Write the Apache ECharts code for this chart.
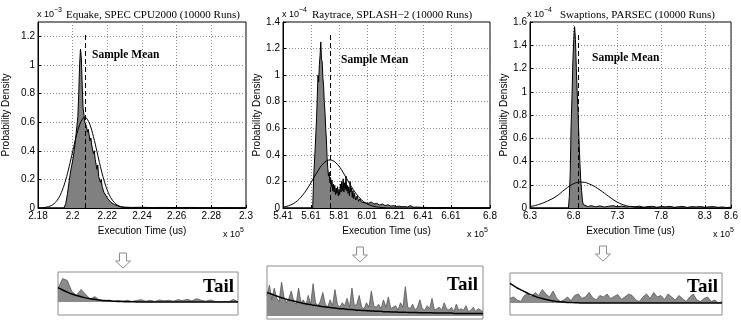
<!DOCTYPE html>
<html><head><meta charset="utf-8">
<style>html,body{margin:0;padding:0;background:#fff}#c{width:741px;height:320px}</style>
<script src="https://cdn.jsdelivr.net/npm/echarts@6.0.0/dist/echarts.min.js"></script>
</head><body><div id="c"></div>
<script>
// ---------- Panel 1: Equake (x in 1e5 us, density in 1e-3) ----------
const p1Title = 'Equake, SPEC CPU2000 (10000 Runs)';
const p1XTicks = [2.18, 2.2, 2.22, 2.24, 2.26, 2.28, 2.3];
const p1XLabels = ['2.18', '2.2', '2.22', '2.24', '2.26', '2.28', '2.3'];
const p1YTicks = [0, 0.2, 0.4, 0.6, 0.8, 1.0, 1.2];
const p1YLabels = ['0', '0.2', '0.4', '0.6', '0.8', '1', '1.2'];
const p1Range = [2.18, 2.3, 0, 1.3];
const p1Mean = 2.207;
const p1Hist = [[2.18,0],[2.195,0],[2.196,0.03],[2.197,0.10],[2.198,0.19],[2.199,0.27],[2.2,0.33],[2.201,0.41],[2.202,0.52],[2.203,0.64],[2.2035,0.80],[2.204,1.0],[2.2045,1.11],[2.205,1.05],[2.2055,0.86],[2.206,0.70],[2.207,0.60],[2.208,0.57],[2.2085,0.53],[2.209,0.55],[2.21,0.47],[2.2105,0.49],[2.211,0.44],[2.212,0.38],[2.2125,0.40],[2.213,0.34],[2.214,0.27],[2.2145,0.30],[2.215,0.22],[2.216,0.18],[2.2165,0.20],[2.217,0.15],[2.218,0.11],[2.2185,0.12],[2.219,0.09],[2.22,0.07],[2.221,0.055],[2.222,0.04],[2.223,0.035],[2.224,0.025],[2.225,0.02],[2.226,0.015],[2.227,0.012],[2.228,0.008],[2.23,0.006],[2.234,0.004],[2.24,0.005],[2.246,0.003],[2.252,0.004],[2.26,0.003],[2.268,0.004],[2.276,0.002],[2.284,0.003],[2.292,0.002],[2.3,0.002]];
const p1Fit = [[2.18,0.0006],[2.184,0.004],[2.188,0.019],[2.19,0.039],[2.192,0.072],[2.194,0.124],[2.196,0.197],[2.198,0.29],[2.2,0.395],[2.202,0.498],[2.204,0.581],[2.206,0.628],[2.207,0.634],[2.208,0.628],[2.21,0.581],[2.212,0.498],[2.214,0.395],[2.216,0.29],[2.218,0.197],[2.22,0.124],[2.222,0.072],[2.224,0.039],[2.226,0.019],[2.228,0.008],[2.23,0.004],[2.234,0.0006],[2.24,0],[2.3,0]];

// ---------- Panel 2: Raytrace (x in 1e5 us, density in 1e-4) ----------
const p2Title = 'Raytrace, SPLASH\u22122 (10000 Runs)';
const p2XTicks = [5.41, 5.61, 5.81, 6.01, 6.21, 6.41, 6.61, 6.889];
const p2XLabels = ['5.41', '5.61', '5.81', '6.01', '6.21', '6.41', '6.61', '6.8'];
const p2YTicks = [0, 0.2, 0.4, 0.6, 0.8, 1.0, 1.2, 1.4];
const p2YLabels = ['0', '0.2', '0.4', '0.6', '0.8', '1', '1.2', '1.4'];
const p2Range = [5.41, 6.889, 0, 1.4];
const p2Mean = 5.746;
const p2Hist = [[5.41,0],[5.622,0],[5.63,0.25],[5.64,0.45],[5.65,0.68],[5.66,1.0],[5.665,0.95],[5.67,1.08],[5.675,1.15],[5.68,1.25],[5.685,1.12],[5.69,1.10],[5.695,0.98],[5.70,0.92],[5.705,0.80],[5.71,0.72],[5.715,0.60],[5.72,0.52],[5.725,0.38],[5.73,0.30],[5.735,0.24],[5.74,0.27],[5.745,0.19],[5.75,0.23],[5.755,0.16],[5.76,0.21],[5.765,0.13],[5.77,0.18],[5.775,0.12],[5.78,0.17],[5.785,0.10],[5.79,0.15],[5.795,0.11],[5.80,0.16],[5.805,0.09],[5.81,0.14],[5.815,0.10],[5.82,0.18],[5.825,0.12],[5.83,0.20],[5.835,0.13],[5.84,0.22],[5.845,0.12],[5.85,0.19],[5.855,0.14],[5.86,0.24],[5.865,0.13],[5.87,0.17],[5.875,0.11],[5.88,0.16],[5.885,0.09],[5.89,0.20],[5.895,0.12],[5.90,0.15],[5.905,0.08],[5.91,0.13],[5.915,0.07],[5.92,0.11],[5.93,0.06],[5.94,0.09],[5.95,0.05],[5.96,0.07],[5.97,0.045],[5.98,0.06],[5.99,0.04],[6.0,0.05],[6.02,0.035],[6.04,0.045],[6.06,0.03],[6.08,0.035],[6.10,0.022],[6.12,0.03],[6.14,0.018],[6.16,0.024],[6.18,0.014],[6.20,0.018],[6.22,0.011],[6.24,0.014],[6.26,0.009],[6.28,0.011],[6.30,0.007],[6.32,0.018],[6.34,0.006],[6.37,0.007],[6.40,0.005],[6.45,0.004],[6.50,0.003],[6.60,0.003],[6.70,0.002],[6.80,0.002],[6.889,0.002]];
const p2Fit = [[5.41,0.007],[5.45,0.017],[5.5,0.044],[5.55,0.096],[5.6,0.173],[5.65,0.263],[5.7,0.337],[5.746,0.362],[5.8,0.327],[5.85,0.248],[5.9,0.159],[5.95,0.085],[6.0,0.038],[6.05,0.015],[6.1,0.005],[6.15,0.0013],[6.2,0],[6.889,0]];

// ---------- Panel 3: Swaptions (x in 1e5 us, density in 1e-4) ----------
const p3Title = 'Swaptions, PARSEC (10000 Runs)';
const p3XTicks = [6.3, 6.8, 7.3, 7.8, 8.3, 8.6];
const p3XLabels = ['6.3', '6.8', '7.3', '7.8', '8.3', '8.6'];
const p3YTicks = [0, 0.2, 0.4, 0.6, 0.8, 1.0, 1.2, 1.4, 1.6];
const p3YLabels = ['0', '0.2', '0.4', '0.6', '0.8', '1', '1.2', '1.4', '1.6'];
const p3Range = [6.3, 8.6, 0, 1.6];
const p3Mean = 6.856;
const p3Hist = [[6.3,0],[6.74,0],[6.75,0.10],[6.76,0.30],[6.77,0.70],[6.78,0.95],[6.79,1.25],[6.80,1.45],[6.81,1.56],[6.82,1.45],[6.83,1.20],[6.84,1.00],[6.85,0.82],[6.86,0.60],[6.87,0.40],[6.88,0.25],[6.89,0.15],[6.90,0.06],[6.91,0.03],[6.93,0.02],[6.96,0.012],[7.0,0.02],[7.05,0.01],[7.1,0.018],[7.15,0.008],[7.2,0.015],[7.25,0.02],[7.3,0.01],[7.35,0.017],[7.4,0.008],[7.45,0.014],[7.5,0.01],[7.55,0.016],[7.6,0.007],[7.65,0.012],[7.7,0.015],[7.75,0.006],[7.8,0.012],[7.85,0.01],[7.9,0.014],[7.95,0.006],[8.0,0.011],[8.05,0.013],[8.1,0.005],[8.15,0.012],[8.2,0.009],[8.25,0.013],[8.3,0.006],[8.35,0.01],[8.4,0.012],[8.45,0.005],[8.5,0.009],[8.55,0.004],[8.6,0.006]];
const p3Fit = [[6.3,0.012],[6.4,0.03],[6.5,0.06],[6.6,0.10],[6.7,0.16],[6.8,0.21],[6.89,0.223],[7.0,0.20],[7.1,0.155],[7.2,0.10],[7.3,0.05],[7.4,0.02],[7.5,0.008],[7.6,0.003],[7.7,0.001],[7.8,0],[8.6,0]];

// ---------- Tail insets (zoomed tails; relative density units) ----------
const tail1Hist = [0.45,0.78,0.72,0.35,0.22,0.42,0.25,0.10,0.18,0.06,0.03,0.07,0.02,0.05,0.03,0.06,0.02,0.05,0.08,0.03,0.06,0.02,0.07,0.04,0.06,0.03,0.08,0.05,0.09,0.04,0.11,0.06,0.03,0.07,0.02,0.0,0.02,0.01,0.09,0.01];
const tail1Fit = [0.48,0.40,0.33,0.27,0.22,0.18,0.14,0.11,0.09,0.07,0.05,0.04,0.03,0.02,0.015,0.01,0.008,0.005,0.003,0.002,0,0,0,0,0,0,0,0,0,0,0,0,0,0,0,0,0,0,0,0];
const tail2Hist = [0.70,1.05,0.55,0.95,0.60,0.50,1.15,0.65,0.45,0.60,
  0.85,0.50,0.40,0.95,0.45,0.55,0.35,0.70,0.40,1.10,
  0.45,0.35,0.50,0.80,0.40,0.30,0.55,0.35,0.90,0.40,
  0.30,0.45,0.35,0.60,0.30,0.95,0.35,0.40,0.70,0.30,
  0.25,0.45,0.30,0.85,0.35,0.30,0.40,0.25,0.55,0.30,
  0.65,0.25,0.30,0.35,0.20,0.45,0.30,1.00,0.30,0.25,
  0.40,0.20,0.30,0.55,0.25,0.20,0.35,0.25,0.60,0.20,
  0.25,0.30,0.20,0.45,0.25,0.20,0.30,0.15,0.40,0.20,
  0.25,0.20,0.35,0.15,0.20,0.30,0.15,0.25,0.20,0.15];
const tail2Fit = [0.80,0.77,0.74,0.71,0.68,0.65,0.62,0.60,0.57,0.55,
  0.53,0.51,0.49,0.47,0.45,0.43,0.42,0.40,0.39,0.37,
  0.36,0.35,0.33,0.32,0.31,0.30,0.29,0.28,0.27,0.26,
  0.25,0.25,0.24,0.23,0.22,0.22,0.21,0.20,0.20,0.19,
  0.19,0.18,0.18,0.17,0.17,0.16,0.16,0.16,0.15,0.15,
  0.15,0.14,0.14,0.14,0.13,0.13,0.13,0.13,0.12,0.12,
  0.12,0.12,0.12,0.11,0.11,0.11,0.11,0.11,0.11,0.10,
  0.10,0.10,0.10,0.10,0.10,0.10,0.10,0.09,0.09,0.09,
  0.09,0.09,0.09,0.09,0.09,0.09,0.09,0.09,0.09,0.09];
const tail3Hist = [0.15,0.20,0.10,0.05,0.25,0.30,0.20,0.35,0.25,0.45,0.30,0.20,0.40,0.15,0.05,0.10,0.20,0.08,0.25,0.30,0.15,0.20,0.35,0.18,0.10,0.25,0.20,0.30,0.15,0.22,0.28,0.12,0.20,0.30,0.25,0.10,0.05,0.20,0.30,0.15,0.35,0.20,0.25,0.12,0.30,0.20,0.10,0.25,0.15,0.05,0.20,0.30,0.10,0.05,0.15,0.20,0.05,0.10,0.00,0.05];
const tail3Fit = [0.65,0.58,0.50,0.44,0.38,0.32,0.27,0.22,0.18,0.15,0.12,0.09,0.07,0.05,0.04,0.03,0.02,0.015,0.01,0.005,0,0,0,0,0,0,0,0,0,0,0,0,0,0,0,0,0,0,0,0,0,0,0,0,0,0,0,0,0,0,0,0,0,0,0,0,0,0,0,0];

const SANS = '"Liberation Sans", Arial, Helvetica, sans-serif';
const SERIF = '"Liberation Serif", "Times New Roman", serif';

const panels = [
  {title: p1Title, xt: p1XTicks, xl: p1XLabels, yt: p1YTicks, yl: p1YLabels, r: p1Range, mean: p1Mean, hist: p1Hist, fit: p1Fit,
   grid: {left: 37, top: 22, width: 209, height: 186}, yNameGap: 27},
  {title: p2Title, xt: p2XTicks, xl: p2XLabels, yt: p2YTicks, yl: p2YLabels, r: p2Range, mean: p2Mean, hist: p2Hist, fit: p2Fit,
   grid: {left: 283, top: 22, width: 207, height: 186}, yNameGap: 20},
  {title: p3Title, xt: p3XTicks, xl: p3XLabels, yt: p3YTicks, yl: p3YLabels, r: p3Range, mean: p3Mean, hist: p3Hist, fit: p3Fit,
   grid: {left: 530, top: 22, width: 204, height: 186}, yNameGap: 20}
];
const insets = [
  {hist: tail1Hist, fit: tail1Fit, grid: {left: 58, top: 272, width: 180, height: 43}, yr: [-0.43, 1.0]},
  {hist: tail2Hist, fit: tail2Fit, grid: {left: 267, top: 266, width: 216, height: 53}, yr: [-0.1, 1.7]},
  {hist: tail3Hist, fit: tail3Fit, grid: {left: 510, top: 273, width: 212, height: 42}, yr: [-0.4, 1.0]}
];

function lab(ticks, labels) {
  return v => { const k = ticks.findIndex(t => Math.abs(t - v) < 1e-6); return k >= 0 ? labels[k] : ''; };
}

const grids = [], xAxes = [], yAxes = [], series = [];
panels.forEach((p, i) => {
  grids.push(Object.assign({show: true, borderColor: '#000', borderWidth: 1, backgroundColor: '#fff', containLabel: false}, p.grid));
  const grid = {show: true, lineStyle: {color: '#8a8a8a', type: [1, 2], width: 1}};
  xAxes.push({gridIndex: i, type: 'value', min: p.r[0], max: p.r[1],
    axisLine: {show: true, onZero: false, lineStyle: {color: '#000', width: 1}},
    axisTick: {show: true, inside: true, length: 3, customValues: p.xt, lineStyle: {color: '#000'}},
    axisLabel: {customValues: p.xt, formatter: lab(p.xt, p.xl), color: '#000', fontSize: 10, fontFamily: SANS, margin: 3, hideOverlap: false, showMinLabel: true, showMaxLabel: true},
    splitLine: grid,
    name: 'Execution Time (us)', nameLocation: 'middle', nameGap: 15,
    nameTextStyle: {color: '#000', fontSize: 10, fontFamily: SANS}});
  yAxes.push({gridIndex: i, type: 'value', min: p.r[2], max: p.r[3],
    axisLine: {show: true, onZero: false, lineStyle: {color: '#000', width: 1}},
    axisTick: {show: true, inside: true, length: 3, customValues: p.yt, lineStyle: {color: '#000'}},
    axisLabel: {customValues: p.yt, formatter: lab(p.yt, p.yl), color: '#000', fontSize: 10, fontFamily: SANS, margin: 3, hideOverlap: false, showMinLabel: true, showMaxLabel: true},
    splitLine: grid,
    name: 'Probability Density', nameLocation: 'middle', nameGap: p.yNameGap,
    nameTextStyle: {color: '#000', fontSize: 10, fontFamily: SANS}});
  series.push({type: 'line', xAxisIndex: i, yAxisIndex: i, data: p.hist, symbol: 'none', silent: true,
    lineStyle: {color: '#000', width: 1}, areaStyle: {color: '#808080', opacity: 1}, z: 2});
  series.push({type: 'line', xAxisIndex: i, yAxisIndex: i, data: p.fit, symbol: 'none', smooth: 0.4, silent: true,
    lineStyle: {color: '#000', width: 1}, z: 3,
    markLine: {symbol: 'none', silent: true, label: {show: false}, animation: false,
      lineStyle: {color: '#000', width: 1, type: [5, 3]},
      data: [[{coord: [p.mean, 0]}, {coord: [p.mean, p.r[3] * 0.94]}]]}});
});
insets.forEach((t, j) => {
  const i = panels.length + j;
  grids.push(Object.assign({show: true, borderColor: '#8c8c8c', borderWidth: 1, backgroundColor: '#fff'}, t.grid));
  xAxes.push({gridIndex: i, type: 'category', data: t.hist.map((_, k) => k), boundaryGap: false, show: false});
  yAxes.push({gridIndex: i, type: 'value', min: t.yr[0], max: t.yr[1], show: false});
  series.push({type: 'line', xAxisIndex: i, yAxisIndex: i, data: t.hist, symbol: 'none', silent: true,
    lineStyle: {color: '#555', width: 0.8}, areaStyle: {color: '#8a8a8a', opacity: 1, origin: 0}, z: 2});
  series.push({type: 'line', xAxisIndex: i, yAxisIndex: i, data: t.fit, symbol: 'none', smooth: 0.4, silent: true,
    lineStyle: {color: '#000', width: 1.5}, z: 3});
});

function txt(x, y, s, size, font, weight, align) {
  return {type: 'text', x: x, y: y, style: {text: s, fill: '#000', fontSize: size, fontFamily: font, fontWeight: weight || 'normal', align: align || 'left', verticalAlign: 'middle'}, z: 100};
}
function arrow(cx, top) {
  return {type: 'polygon', shape: {points: [[cx - 3.5, top], [cx + 3.5, top], [cx + 3.5, top + 8], [cx + 7.5, top + 8], [cx, top + 15], [cx - 7.5, top + 8], [cx - 3.5, top + 8]]},
    style: {fill: '#fff', stroke: '#8c8c8c', lineWidth: 1}, z: 100};
}
const graphics = [
  txt(37, 15, 'x 10', 9, SANS), txt(54, 10, '\u22123', 7, SANS), txt(66, 15, p1Title, 11, SERIF),
  txt(282, 15, 'x 10', 9, SANS), txt(299, 10, '\u22124', 7, SANS), txt(312, 15, p2Title, 11, SERIF),
  txt(527, 15, 'x 10', 9, SANS), txt(544, 10, '\u22124', 7, SANS), txt(560, 15, p3Title, 11, SERIF),
  txt(92, 55, 'Sample Mean', 11.5, SERIF, 'bold'),
  txt(341, 60, 'Sample Mean', 11.5, SERIF, 'bold'),
  txt(592, 58, 'Sample Mean', 11.5, SERIF, 'bold'),
  txt(223, 235, 'x 10', 9, SANS), txt(240, 230, '5', 7, SANS),
  txt(467, 235, 'x 10', 9, SANS), txt(484, 230, '5', 7, SANS),
  txt(713, 235, 'x 10', 9, SANS), txt(730, 230, '5', 7, SANS),
  arrow(123, 253), arrow(360, 247), arrow(603, 246),
  txt(234, 287, 'Tail', 19, SERIF, 'bold', 'right'),
  txt(478, 285, 'Tail', 19, SERIF, 'bold', 'right'),
  txt(718, 287, 'Tail', 19, SERIF, 'bold', 'right')
];

const chart = echarts.init(document.getElementById('c'), null, {renderer: 'canvas', width: 741, height: 320});
chart.setOption({animation: false, backgroundColor: '#fff', grid: grids, xAxis: xAxes, yAxis: yAxes, series: series, graphic: graphics});
</script></body></html>
